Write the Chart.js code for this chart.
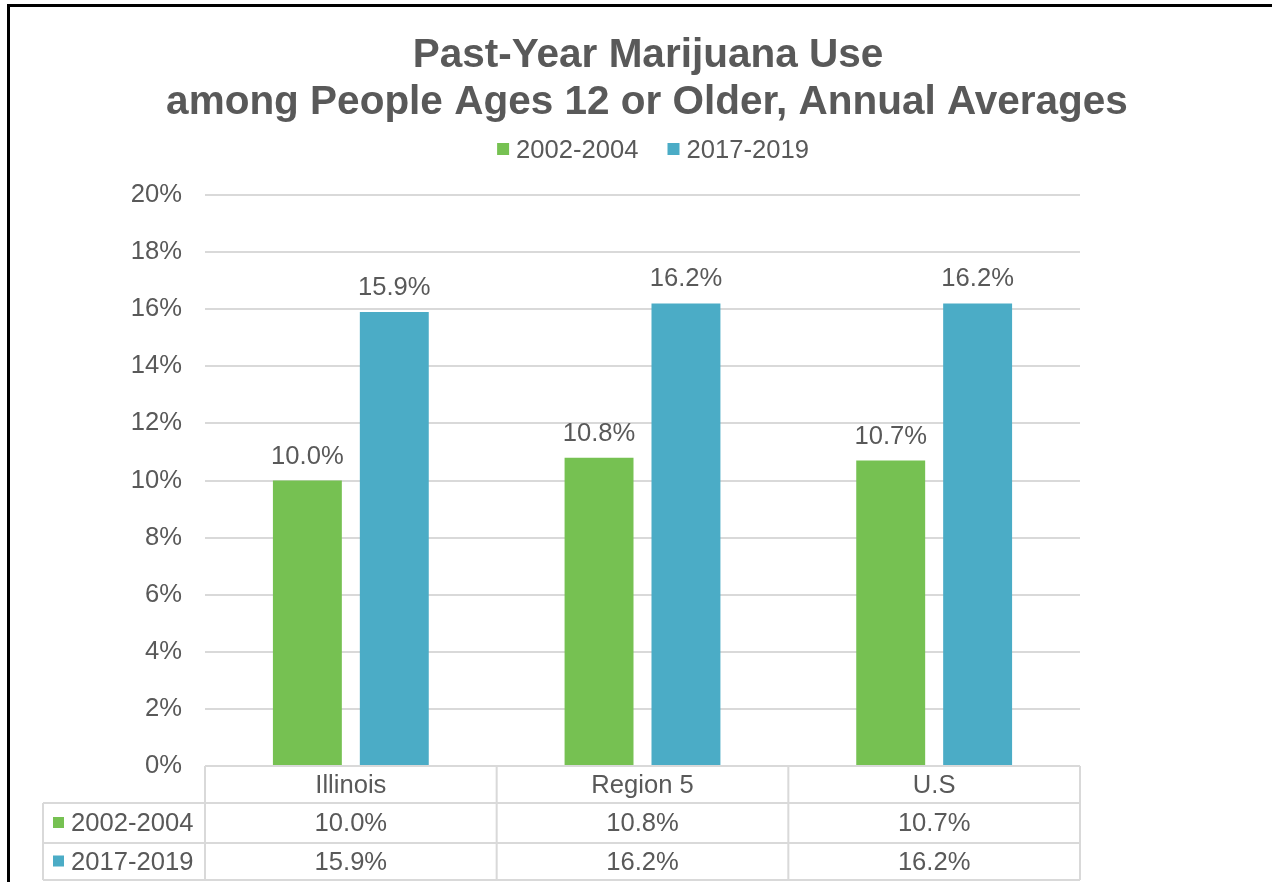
<!DOCTYPE html>
<html lang="en">
<head>
  <meta charset="UTF-8">
  <title>Past-Year Marijuana Use</title>
  <script src="https://cdn.jsdelivr.net/npm/chart.js"></script>
  <style>
    body { margin: 0; background: #fff; overflow: hidden; }
    .frame { position: absolute; left: 7px; top: 4px; width: 1300px; height: 900px;
             border-top: 3px solid #000; border-left: 3px solid #000; }
    .wrap { position: absolute; left: 0; top: 0; width: 1272px; height: 882px; }
  </style>
</head>
<body>
  <div class="frame"></div>
  <div class="wrap"><canvas id="useChart"></canvas></div>

  <script>
    const titleLines = ['Past-Year Marijuana Use', 'among People Ages 12 or Older, Annual Averages'];
    const regions = ['Illinois', 'Region 5', 'U.S'];
    const seriesNames = ['2002-2004', '2017-2019'];
    const use2002 = [10.0, 10.8, 10.7];
    const use2017 = [15.9, 16.2, 16.2];
    const seriesColors = ['#76c152', '#4bacc6'];
    const yMax = 20;
    const yStep = 2;

    const textColor = '#595959';
    const lineColor = '#d9d9d9';
    const font = 'Liberation Sans, Arial, sans-serif';
    const textSize = 25.6;

    const pct = v => v.toFixed(1) + '%';

    // title, legend, value labels and the data table under the plot
    const extras = {
      id: 'extras',
      afterDraw(chart) {
        const ctx = chart.ctx;
        const a = chart.chartArea;
        const xs = chart.scales.x;
        const sets = chart.data.datasets;
        ctx.save();
        ctx.fillStyle = textColor;

        // title
        ctx.font = 'bold 40.5px ' + font;
        ctx.textAlign = 'center';
        ctx.textBaseline = 'alphabetic';
        ctx.fillText(titleLines[0], 648, 67);
        ctx.fillText(titleLines[1], 647, 114);

        // legend
        ctx.font = textSize + 'px ' + font;
        const box = 12, gap = 7, space = 29;
        const widths = sets.map(d => box + gap + ctx.measureText(d.label).width);
        const total = widths.reduce((s, w) => s + w, 0) + space * (sets.length - 1);
        let lx = 653 - total / 2;
        ctx.textAlign = 'left';
        sets.forEach((d, i) => {
          ctx.fillStyle = d.backgroundColor;
          ctx.fillRect(lx, 143, box, box);
          ctx.fillStyle = textColor;
          ctx.fillText(d.label, lx + box + gap, 158);
          lx += widths[i] + space;
        });

        // value labels above bars
        ctx.textAlign = 'center';
        sets.forEach((d, di) => {
          chart.getDatasetMeta(di).data.forEach((bar, i) => {
            ctx.fillText(pct(d.data[i]), bar.x, bar.y - 17);
          });
        });

        // data table
        const left = 43;
        const colW = (a.right - a.left) / regions.length;
        const rows = [a.bottom, a.bottom + 37, a.bottom + 77, a.bottom + 114];
        ctx.strokeStyle = lineColor;
        ctx.lineWidth = 2;
        ctx.beginPath();
        ctx.moveTo(a.left, rows[0]); ctx.lineTo(a.right, rows[0]);
        for (let r = 1; r < rows.length; r++) {
          ctx.moveTo(left, rows[r]); ctx.lineTo(a.right, rows[r]);
        }
        ctx.moveTo(left, rows[1]); ctx.lineTo(left, rows[3]);
        for (let c = 0; c <= regions.length; c++) {
          const x = a.left + colW * c;
          ctx.moveTo(x, rows[0]); ctx.lineTo(x, rows[3]);
        }
        ctx.stroke();

        ctx.fillStyle = textColor;
        ctx.textBaseline = 'middle';
        ctx.textAlign = 'center';
        regions.forEach((name, i) => {
          const cx = xs.getPixelForValue(i);
          ctx.fillText(name, cx, (rows[0] + rows[1]) / 2 + 1);
          sets.forEach((d, di) => {
            ctx.fillText(pct(d.data[i]), cx, (rows[di + 1] + rows[di + 2]) / 2 + 1);
          });
        });
        ctx.textAlign = 'left';
        sets.forEach((d, di) => {
          const cy = (rows[di + 1] + rows[di + 2]) / 2;
          ctx.fillStyle = d.backgroundColor;
          ctx.fillRect(53, cy - 6, 11, 11);
          ctx.fillStyle = textColor;
          ctx.fillText(d.label, 71, cy + 1);
        });
        ctx.restore();
      }
    };

    new Chart(document.getElementById('useChart'), {
      type: 'bar',
      data: {
        labels: regions,
        datasets: [
          { label: seriesNames[0], data: use2002, backgroundColor: seriesColors[0] },
          { label: seriesNames[1], data: use2017, backgroundColor: seriesColors[1] }
        ]
      },
      options: {
        responsive: true,
        maintainAspectRatio: false,
        animation: false,
        categoryPercentage: 0.596,
        barPercentage: 0.793,
        layout: { padding: { top: 195, bottom: 116, left: 0, right: 192 } },
        scales: {
          x: { display: false },
          y: {
            min: 0,
            max: yMax,
            afterFit: s => { s.width = 205; },
            border: { display: false },
            grid: { color: lineColor, lineWidth: 2, drawTicks: false },
            ticks: {
              stepSize: yStep,
              padding: 23,
              color: textColor,
              font: { family: font, size: textSize },
              callback: v => v + '%'
            }
          }
        },
        plugins: {
          legend: { display: false },
          title: { display: false },
          tooltip: { enabled: false }
        }
      },
      plugins: [extras]
    });
  </script>
</body>
</html>
